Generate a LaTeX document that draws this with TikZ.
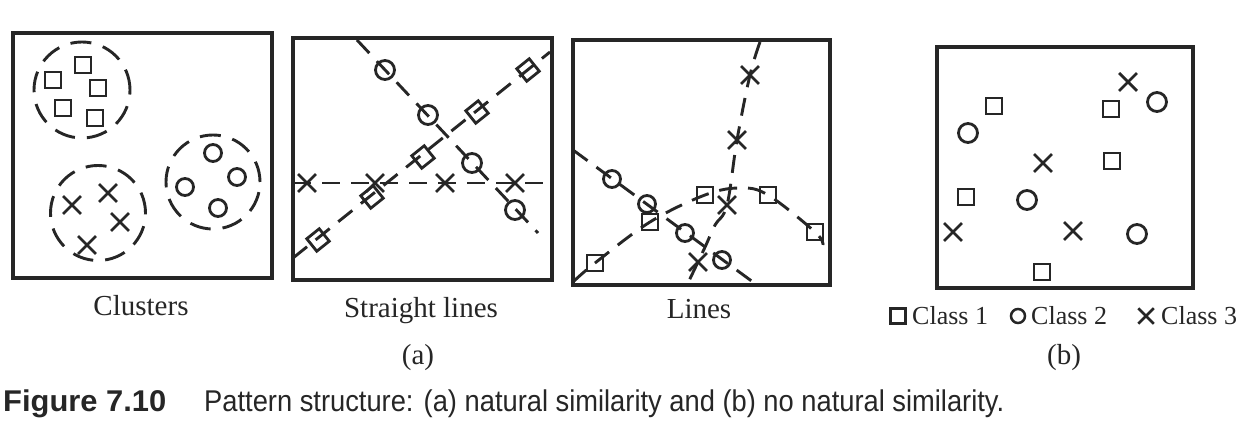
\documentclass[tikz,border=0pt]{standalone}
\usepackage{fontspec}
\setmainfont{Liberation Serif}
\newfontfamily\capfont[FakeStretch=0.91]{Liberation Sans}
\newfontfamily\capboldfont[FakeStretch=1.03]{Liberation Sans}
\usetikzlibrary{shapes.misc}
\definecolor{ink}{HTML}{262626}
\begin{document}
\begin{tikzpicture}[x=1pt,y=-1pt,
  frame/.style={draw=ink, rectangle, line width=3.6pt, inner sep=0pt},
  dline/.style={draw=ink, line width=2.9pt, dash pattern=on 18pt off 11pt},
  dcirc/.style={draw=ink, circle, line width=2.9pt, dash pattern=on 21pt off 12pt, inner sep=0pt, minimum size=#1},
  sq/.style={draw=ink, rectangle, line width=2.8pt, inner sep=0pt, minimum size=#1},
  sq/.default=16pt,
  ci/.style={draw=ink, circle, line width=2.8pt, inner sep=0pt, minimum size=#1},
  ci/.default=17pt,
  xm/.style={draw=ink, cross out, line width=2.8pt, inner sep=0pt, minimum size=#1},
  xm/.default=15pt,
  lab/.style={font=\fontsize{29}{34}\selectfont, text=ink, inner sep=0pt, anchor=base},
  leg/.style={font=\fontsize{26}{30}\selectfont, text=ink, inner sep=0pt, anchor=base west},
  captext/.style={font=\capfont\fontsize{30}{36}\selectfont, text=ink, inner sep=0pt, anchor=base west},
]
\useasboundingbox[fill=white] (0,0) rectangle (1244,435);

% ---------- Panel 1: Clusters ----------
\node[frame, minimum width=259pt, minimum height=245pt] (boxA) at (142.5,155.5) {};
\node[dcirc=96pt] (clA) at (82,90) {};
\node[sq] (a1) at (83,65) {};
\node[sq] (a2) at (53,80) {};
\node[sq] (a3) at (98,88) {};
\node[sq] (a4) at (63,108) {};
\node[sq] (a5) at (95,118) {};
\node[dcirc=94pt] (clB) at (213,182) {};
\node[ci] (b1) at (213,153) {};
\node[ci] (b2) at (185,187) {};
\node[ci] (b3) at (237,177) {};
\node[ci] (b4) at (218,208) {};
\node[dcirc=95pt] (clC) at (98,213) {};
\node[xm] (c1) at (72,205) {};
\node[xm] (c2) at (108,193) {};
\node[xm] (c3) at (120,222) {};
\node[xm] (c4) at (87,245) {};
\node[lab] (labA) at (141,316) {Clusters};

% ---------- Panel 2: Straight lines ----------
\node[frame, minimum width=259pt, minimum height=242pt] (boxB) at (422.5,159) {};
\coordinate (o2s) at (357,40);
\coordinate (o2e) at (538,233);
\coordinate (s2s) at (293,258);
\coordinate (s2e) at (550,52);
\coordinate (x2s) at (293,183);
\coordinate (x2e) at (552,183);
\draw[dline] (o2s) -- (o2e);
\draw[dline] (s2s) -- (s2e);
\draw[dline] (x2s) -- (x2e);
\node[ci=19pt] (p2o1) at (385,70) {};
\node[ci=19pt] (p2o2) at (428,115) {};
\node[ci=19pt] (p2o3) at (472,163) {};
\node[ci=19pt] (p2o4) at (515,210) {};
\node[sq=16pt, rotate=38.7] (p2s1) at (318,240) {};
\node[sq=16pt, rotate=38.7] (p2s2) at (372,197) {};
\node[sq=16pt, rotate=38.7] (p2s3) at (423,157) {};
\node[sq=16pt, rotate=38.7] (p2s4) at (477,112) {};
\node[sq=16pt, rotate=38.7] (p2s5) at (528,70) {};
\node[xm=15pt] (p2x1) at (307,183) {};
\node[xm=15pt] (p2x2) at (375,183) {};
\node[xm=15pt] (p2x3) at (445,183) {};
\node[xm=15pt] (p2x4) at (515,183) {};
\node[lab] (labB) at (421,318) {Straight lines};
\node[lab] (laba) at (418,364) {(a)};

% ---------- Panel 3: Lines ----------
\node[frame, minimum width=257pt, minimum height=245pt] (boxC) at (701.5,162.5) {};
\node[ci] (p3o1) at (612,179) {};
\node[ci] (p3o2) at (647,204) {};
\node[ci] (p3o3) at (685,233) {};
\node[ci] (p3o4) at (722,260) {};
\node[sq=16pt] (p3s1) at (595,263) {};
\node[sq=16pt] (p3s2) at (650,222) {};
\node[sq=16pt] (p3s3) at (705,195) {};
\node[sq=16pt] (p3s4) at (768,195) {};
\node[sq=16pt] (p3s5) at (815,232) {};
\node[xm=15pt] (p3x1) at (750,75) {};
\node[xm=15pt] (p3x2) at (737,140) {};
\node[xm=15pt] (p3x3) at (727,205) {};
\node[xm=15pt] (p3x4) at (698,262) {};
\coordinate (o3s) at (573,150);
\coordinate (o3e) at (757,285);
\coordinate (s3s) at (573,282);
\coordinate (s3m) at (740,188);
\coordinate (s3e) at (823,245);
\coordinate (x3s) at (760,42);
\coordinate (x3m1) at (715,225);
\coordinate (x3m2) at (706,245);
\coordinate (x3e) at (687,285);
\draw[dline] (o3s) -- (o3e);
\draw[dline] plot[smooth, tension=0.6] coordinates {(s3s) (p3s1.center) (p3s2.center) (p3s3.center) (s3m) (p3s4.center) (p3s5.center) (s3e)};
\draw[dline] plot[smooth, tension=0.6] coordinates {(x3s) (p3x1.center) (p3x2.center) (p3x3.center) (x3m1) (x3m2) (p3x4.center) (x3e)};
\node[lab] (labC) at (699,319) {Lines};

% ---------- Panel 4: no natural similarity ----------
\node[frame, minimum width=256pt, minimum height=241pt] (boxD) at (1065,167.5) {};
\node[sq=16pt] (q1) at (994,106) {};
\node[sq=16pt] (q2) at (1111,109) {};
\node[sq=16pt] (q3) at (1112,161) {};
\node[sq=16pt] (q4) at (966,197) {};
\node[sq=16pt] (q5) at (1042,272) {};
\node[ci=19pt] (r1) at (1157,102) {};
\node[ci=19pt] (r2) at (968,133) {};
\node[ci=19pt] (r3) at (1027,200) {};
\node[ci=19pt] (r4) at (1137,234) {};
\node[xm=15pt] (t1) at (1128,82) {};
\node[xm=15pt] (t2) at (1043,163) {};
\node[xm=15pt] (t3) at (953,232) {};
\node[xm=15pt] (t4) at (1073,231) {};

% legend
\node[sq=15pt, line width=2.5pt] (lg1) at (898,316) {};
\node[leg] (lgt1) at (912,325) {Class 1};
\node[ci=14pt, line width=2.5pt] (lg2) at (1018,316) {};
\node[leg] (lgt2) at (1031,325) {Class 2};
\node[xm=13pt, line width=2.5pt] (lg3) at (1146,316) {};
\node[leg] (lgt3) at (1161,325) {Class 3};
\node[lab] (labb) at (1064,364) {(b)};

% ---------- caption ----------
\node[captext, font=\capboldfont\fontsize{30}{36}\selectfont\bfseries] (capA) at (3,411) {Figure 7.10};
\node[captext] (capB) at (204,411) {Pattern structure: (a) natural similarity and (b) no natural similarity.};
\end{tikzpicture}
\end{document}
